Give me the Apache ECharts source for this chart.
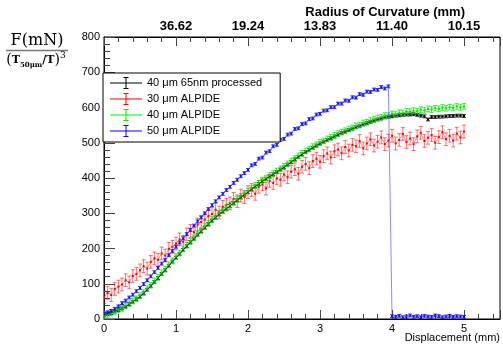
<!DOCTYPE html>
<html>
<head>
<meta charset="utf-8">
<script src="https://cdn.jsdelivr.net/npm/echarts@6/dist/echarts.min.js"></script>
<style>
  html, body { margin: 0; padding: 0; background: #fff; }
  #chart { width: 503px; height: 344px; }
</style>
</head>
<body>
<div id="chart"></div>
<script>
// displacement (mm), shared by all four graphs
const xs = [
  0.00, 0.05, 0.10, 0.15, 0.20, 0.25, 0.30, 0.35, 0.40, 0.45,
  0.50, 0.55, 0.60, 0.65, 0.70, 0.75, 0.80, 0.85, 0.90, 0.95,
  1.00, 1.05, 1.10, 1.15, 1.20, 1.25, 1.30, 1.35, 1.40, 1.45,
  1.50, 1.55, 1.60, 1.65, 1.70, 1.75, 1.80, 1.85, 1.90, 1.95,
  2.00, 2.05, 2.10, 2.15, 2.20, 2.25, 2.30, 2.35, 2.40, 2.45,
  2.50, 2.55, 2.60, 2.65, 2.70, 2.75, 2.80, 2.85, 2.90, 2.95,
  3.00, 3.05, 3.10, 3.15, 3.20, 3.25, 3.30, 3.35, 3.40, 3.45,
  3.50, 3.55, 3.60, 3.65, 3.70, 3.75, 3.80, 3.85, 3.90, 3.95,
  4.00, 4.05, 4.10, 4.15, 4.20, 4.25, 4.30, 4.35, 4.40, 4.45,
  4.50, 4.55, 4.60, 4.65, 4.70, 4.75, 4.80, 4.85, 4.90, 4.95,
  5.00
]

const processed40 = [
  12, 14, 17, 21, 25, 30, 35, 42, 49, 56,
  64, 73, 83, 94, 105, 116, 128, 139, 151, 163,
  174, 185, 196, 207, 218, 228, 239, 249, 259, 269,
  279, 288, 297, 305, 313, 321, 329, 337, 345, 353,
  360, 368, 376, 383, 391, 398, 404, 411, 417, 424,
  430, 438, 445, 453, 460, 467, 474, 480, 486, 492,
  498, 503, 508, 513, 518, 523, 528, 532, 536, 540,
  544, 548, 552, 556, 559, 563, 566, 569, 572, 574,
  575, 577, 578, 579, 580, 580, 581, 579, 577, 575,
  566, 573, 573, 574, 574, 575, 576, 576, 577, 577,
  576
]

const alpide30 = [
  62, 74, 68, 85, 92, 98, 110, 104, 122, 128,
  138, 150, 143, 162, 172, 168, 186, 180, 199, 205,
  214, 226, 219, 240, 250, 246, 268, 275, 282, 292,
  298, 310, 302, 318, 324, 328, 341, 334, 350, 346,
  360, 366, 355, 375, 382, 370, 392, 386, 399, 395,
  410, 402, 418, 425, 412, 432, 440, 428, 448, 455,
  446, 462, 470, 458, 476, 481, 470, 488, 478, 494,
  490, 505, 484, 498, 510, 492, 503, 515, 496, 506,
  520, 498, 508, 525, 502, 512, 496, 518, 528, 505,
  514, 522, 500, 516, 530, 510, 520, 506, 526, 515,
  532
]

const alpide40 = [
  10, 13, 17, 20, 26, 30, 37, 43, 51, 57,
  66, 75, 86, 96, 108, 118, 131, 141, 154, 165,
  177, 187, 199, 209, 220, 230, 242, 251, 262, 271,
  282, 290, 300, 307, 316, 323, 332, 339, 348, 355,
  363, 370, 379, 385, 394, 400, 407, 413, 420, 426,
  433, 440, 448, 455, 463, 470, 477, 482, 489, 494,
  501, 505, 511, 515, 521, 526, 530, 534, 539, 542,
  548, 550, 556, 558, 563, 566, 570, 572, 577, 577,
  582, 580, 585, 584, 589, 588, 591, 589, 594, 592,
  596, 594, 598, 596, 600, 598, 601, 599, 603, 600,
  603
]

const alpide50 = [
  15, 19, 23, 29, 36, 45, 52, 61, 69, 79,
  88, 99, 110, 121, 133, 145, 157, 168, 181, 193,
  205, 217, 229, 241, 253, 265, 277, 288, 300, 312,
  323, 334, 345, 355, 366, 375, 386, 395, 405, 414,
  423, 436, 440, 455, 458, 472, 476, 490, 494, 508,
  511, 523, 526, 539, 541, 553, 555, 567, 569, 580,
  582, 591, 592, 601, 601, 611, 611, 620, 619, 629,
  628, 638, 636, 645, 644, 651, 650, 658, 654, 660,
  8, 6, 9, 5, 7, 10, 6, 8, 5, 9,
  7, 6, 10, 8, 5, 7, 9, 6, 8, 7,
  6
]

// half height of the error bars
const err40processed = 4
const err30 = 18
const err40 = 8
const err50 = 4

// radius of curvature printed on the top axis at displacement 1..5
const radiusLabels = ['', '36.62', '19.24', '13.83', '11.40', '10.15']

const seriesNames = ['40 μm 65nm processed', '30 μm ALPIDE', '40 μm ALPIDE', '50 μm ALPIDE']

const chart = echarts.init(document.getElementById('chart'), null, { renderer: 'canvas' })

const font = 'Liberation Sans, Arial, Helvetica, sans-serif'
const legendIcon = 'path://M0,5.5H32V6.5H0Z M15.5,0H16.5V12H15.5Z M13.5,0H18.5V1H13.5Z M13.5,11H18.5V12H13.5Z'

function errorBars(color, dotColor) {
  return function (params, api) {
    const x = api.value(0)
    const y = api.value(1)
    const e = api.value(2)
    const hi = api.coord([x, y + e])
    const lo = api.coord([x, y - e])
    const mid = api.coord([x, y])
    const st = { stroke: color, lineWidth: 1 }
    return {
      type: 'group',
      children: [
        { type: 'line', shape: { x1: hi[0], y1: hi[1], x2: lo[0], y2: lo[1] }, style: st },
        { type: 'line', shape: { x1: hi[0] - 2, y1: hi[1], x2: hi[0] + 2, y2: hi[1] }, style: st },
        { type: 'line', shape: { x1: lo[0] - 2, y1: lo[1], x2: lo[0] + 2, y2: lo[1] }, style: st },
        { type: 'rect', shape: { x: mid[0] - 1, y: mid[1] - 1, width: 2, height: 2 }, style: { fill: dotColor } }
      ]
    }
  }
}

function graph(name, values, err, color, lineColor, barColor) {
  return [
    {
      name: name,
      type: 'line',
      data: xs.map((x, i) => [x, values[i]]),
      showSymbol: false,
      itemStyle: { color: color },
      lineStyle: { color: lineColor, width: 1 },
      animation: false
    },
    {
      type: 'custom',
      data: xs.map((x, i) => [x, values[i], err]),
      encode: { x: 0, y: 1 },
      renderItem: errorBars(barColor, color),
      clip: true,
      animation: false
    }
  ]
}

const axisCommon = {
  type: 'value',
  min: 0,
  max: 5.5,
  interval: 1,
  axisLine: { lineStyle: { color: '#000', width: 1 } },
  axisTick: { inside: true, length: 9, lineStyle: { color: '#444' } },
  minorTick: { show: true, splitNumber: 5, length: 5, lineStyle: { color: '#444' } },
  splitLine: { show: false }
}

chart.setOption({
  backgroundColor: '#fff',
  grid: { left: 104, right: 3, top: 37, bottom: 25, show: true, borderColor: '#000', borderWidth: 1 },
  legend: {
    left: 103,
    top: 73,
    orient: 'vertical',
    padding: [4, 18, 5, 7],
    itemWidth: 32,
    itemHeight: 12,
    itemGap: 4,
    backgroundColor: '#fff',
    borderColor: '#000',
    borderWidth: 1,
    textStyle: { fontFamily: font, fontSize: 11, color: '#000' },
    data: seriesNames.map(n => ({ name: n, icon: legendIcon }))
  },
  xAxis: [
    Object.assign({}, axisCommon, {
      position: 'bottom',
      axisLabel: { color: '#000', fontFamily: font, fontSize: 11, margin: 4, showMaxLabel: false }
    }),
    Object.assign({}, axisCommon, {
      position: 'top',
      axisLabel: {
        color: '#000', fontFamily: font, fontSize: 13, fontWeight: 'bold', margin: 4, showMaxLabel: false,
        formatter: v => radiusLabels[Math.round(v)] || ''
      }
    })
  ],
  yAxis: {
    type: 'value',
    min: 0,
    max: 800,
    interval: 100,
    axisLine: { show: true, lineStyle: { color: '#000', width: 1 } },
    axisTick: { inside: true, length: 11, lineStyle: { color: '#444' } },
    minorTick: { show: true, splitNumber: 5, length: 6, lineStyle: { color: '#444' } },
    splitLine: { show: false },
    axisLabel: { color: '#000', fontFamily: font, fontSize: 11, margin: 4 }
  },
  graphic: [
    {
      type: 'text', right: 3, top: 332,
      style: { text: 'Displacement (mm)', font: '11px ' + font, fill: '#000' }
    },
    {
      type: 'text', x: 465, y: 12,
      style: { text: 'Radius of Curvature (mm)', font: 'bold 13px ' + font, fill: '#000', align: 'right', verticalAlign: 'middle' }
    },
    {
      type: 'text', x: 37, y: 41,
      style: { text: 'F(mN)', font: '16px "DejaVu Serif", serif', fill: '#000', align: 'center', verticalAlign: 'middle' }
    },
    {
      type: 'line', shape: { x1: 6, y1: 50.5, x2: 68, y2: 50.5 },
      style: { stroke: '#777', lineWidth: 1.5 }
    },
    {
      type: 'text', x: 36, y: 60,
      style: {
        text: '{p|(}{t|T}{s|50μm}{t|/T}{p|)}{e|3}',
        align: 'center',
        verticalAlign: 'middle',
        fill: '#000',
        rich: {
          p: { fontFamily: 'DejaVu Serif', fontSize: 14, lineHeight: 18, fill: '#000' },
          t: { fontFamily: 'DejaVu Serif', fontSize: 11, fontWeight: 'bold', lineHeight: 18, fill: '#000' },
          s: { fontFamily: 'DejaVu Serif', fontSize: 7, fontWeight: 'bold', lineHeight: 16, verticalAlign: 'bottom', fill: '#000' },
          e: { fontFamily: 'DejaVu Serif', fontSize: 9, lineHeight: 18, verticalAlign: 'top', fill: '#000' }
        }
      }
    }
  ],
  series: [
    ...graph(seriesNames[0], processed40, err40processed, '#000', 'rgba(0,0,0,0.6)', 'rgba(0,0,0,0.8)'),
    ...graph(seriesNames[1], alpide30, err30, '#f00', 'rgba(255,0,0,0.45)', 'rgba(255,0,0,0.55)'),
    ...graph(seriesNames[2], alpide40, err40, '#0e0', 'rgba(0,220,0,0.5)', 'rgba(0,230,0,0.75)'),
    ...graph(seriesNames[3], alpide50, err50, '#00f', 'rgba(60,60,255,0.6)', 'rgba(0,0,255,0.8)')
  ]
})
</script>
</body>
</html>
